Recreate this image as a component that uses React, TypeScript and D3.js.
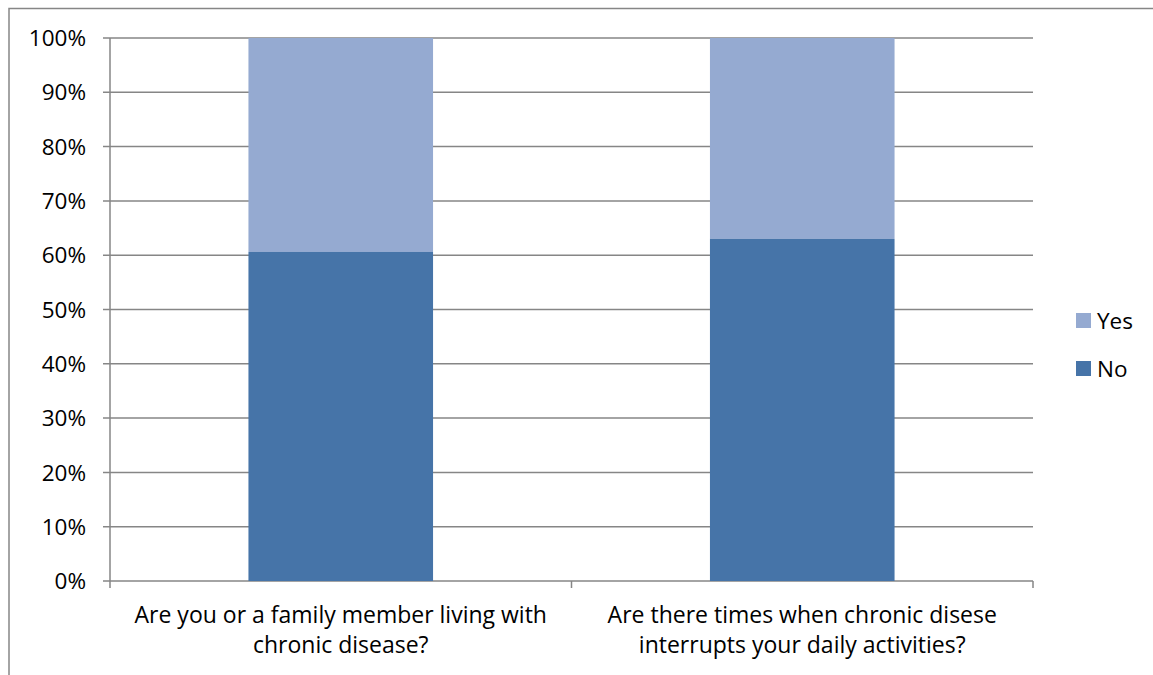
import React from "react";
import * as d3 from "d3";

const categories = [
  ["Are you or a family member living with", "chronic disease?"],
  ["Are there times when chronic disese", "interrupts your daily activities?"],
];
const noValues = [0.606, 0.63];
const yesValues = [0.394, 0.37];
const yTicks = [0, 0.1, 0.2, 0.3, 0.4, 0.5, 0.6, 0.7, 0.8, 0.9, 1];
const seriesNames = ["Yes", "No"];

const W = 1153, H = 675;
const left = 110, right = 1033, top = 38, bottom = 581;
const COL_NO = "#4674A8";
const COL_YES = "#95AAD1";
const GRID = "#868686";
const FONT = "'Open Sans', sans-serif";
const FS = 22.5;

export default function App() {
  const x = d3.scaleBand<number>().domain(d3.range(categories.length)).range([left, right]).paddingInner(0.6).paddingOuter(0.3);
  const xb = d3.scaleBand<number>().domain(d3.range(categories.length)).range([left, right]);
  const y = d3.scaleLinear().domain([0, 1]).range([bottom, top]);
  const fmt = d3.format(".0%");
  return (
    <svg width={W} height={H} style={{ position: "absolute", left: 0, top: 0, fontFamily: FONT }}>
      <rect x={0} y={0} width={W} height={H} fill="#fff" />
      <rect x={9} y={8.5} width={W + 10} height={H + 10} fill="none" stroke={GRID} strokeWidth={1.5} />
      {yTicks.map((t) => (
        <g key={t}>
          <line x1={left - 7} x2={right} y1={y(t)} y2={y(t)} stroke={GRID} strokeWidth={1.5} />
          <text x={86} y={y(t)} dy="0.36em" textAnchor="end" fontSize={FS} fill="#000">{fmt(t)}</text>
        </g>
      ))}
      <line x1={left} x2={left} y1={top} y2={bottom} stroke={GRID} strokeWidth={1.5} />
      {[...d3.range(categories.length).map((i) => xb(i)!), right].map((v, i) => (
        <line key={i} x1={v} x2={v} y1={bottom} y2={bottom + 7} stroke={GRID} strokeWidth={1.5} />
      ))}
      {categories.map((c, i) => (
        <g key={i}>
          <rect x={x(i)} width={x.bandwidth()} y={y(noValues[i] + yesValues[i])} height={y(noValues[i]) - y(noValues[i] + yesValues[i])} fill={COL_YES} />
          <rect x={x(i)} width={x.bandwidth()} y={y(noValues[i])} height={bottom - y(noValues[i])} fill={COL_NO} />
          {c.map((line, j) => (
            <text key={j} x={xb(i)! + xb.bandwidth() / 2} y={623 + j * 30} textAnchor="middle" fontSize={23} fill="#000">{line}</text>
          ))}
        </g>
      ))}
      {seriesNames.map((s, i) => (
        <g key={s} transform={`translate(1076, ${313 + i * 48})`}>
          <rect width={15} height={15} fill={s === "Yes" ? COL_YES : COL_NO} />
          <text x={21} y={8} dy="0.36em" fontSize={FS} fill="#000">{s}</text>
        </g>
      ))}
    </svg>
  );
}
